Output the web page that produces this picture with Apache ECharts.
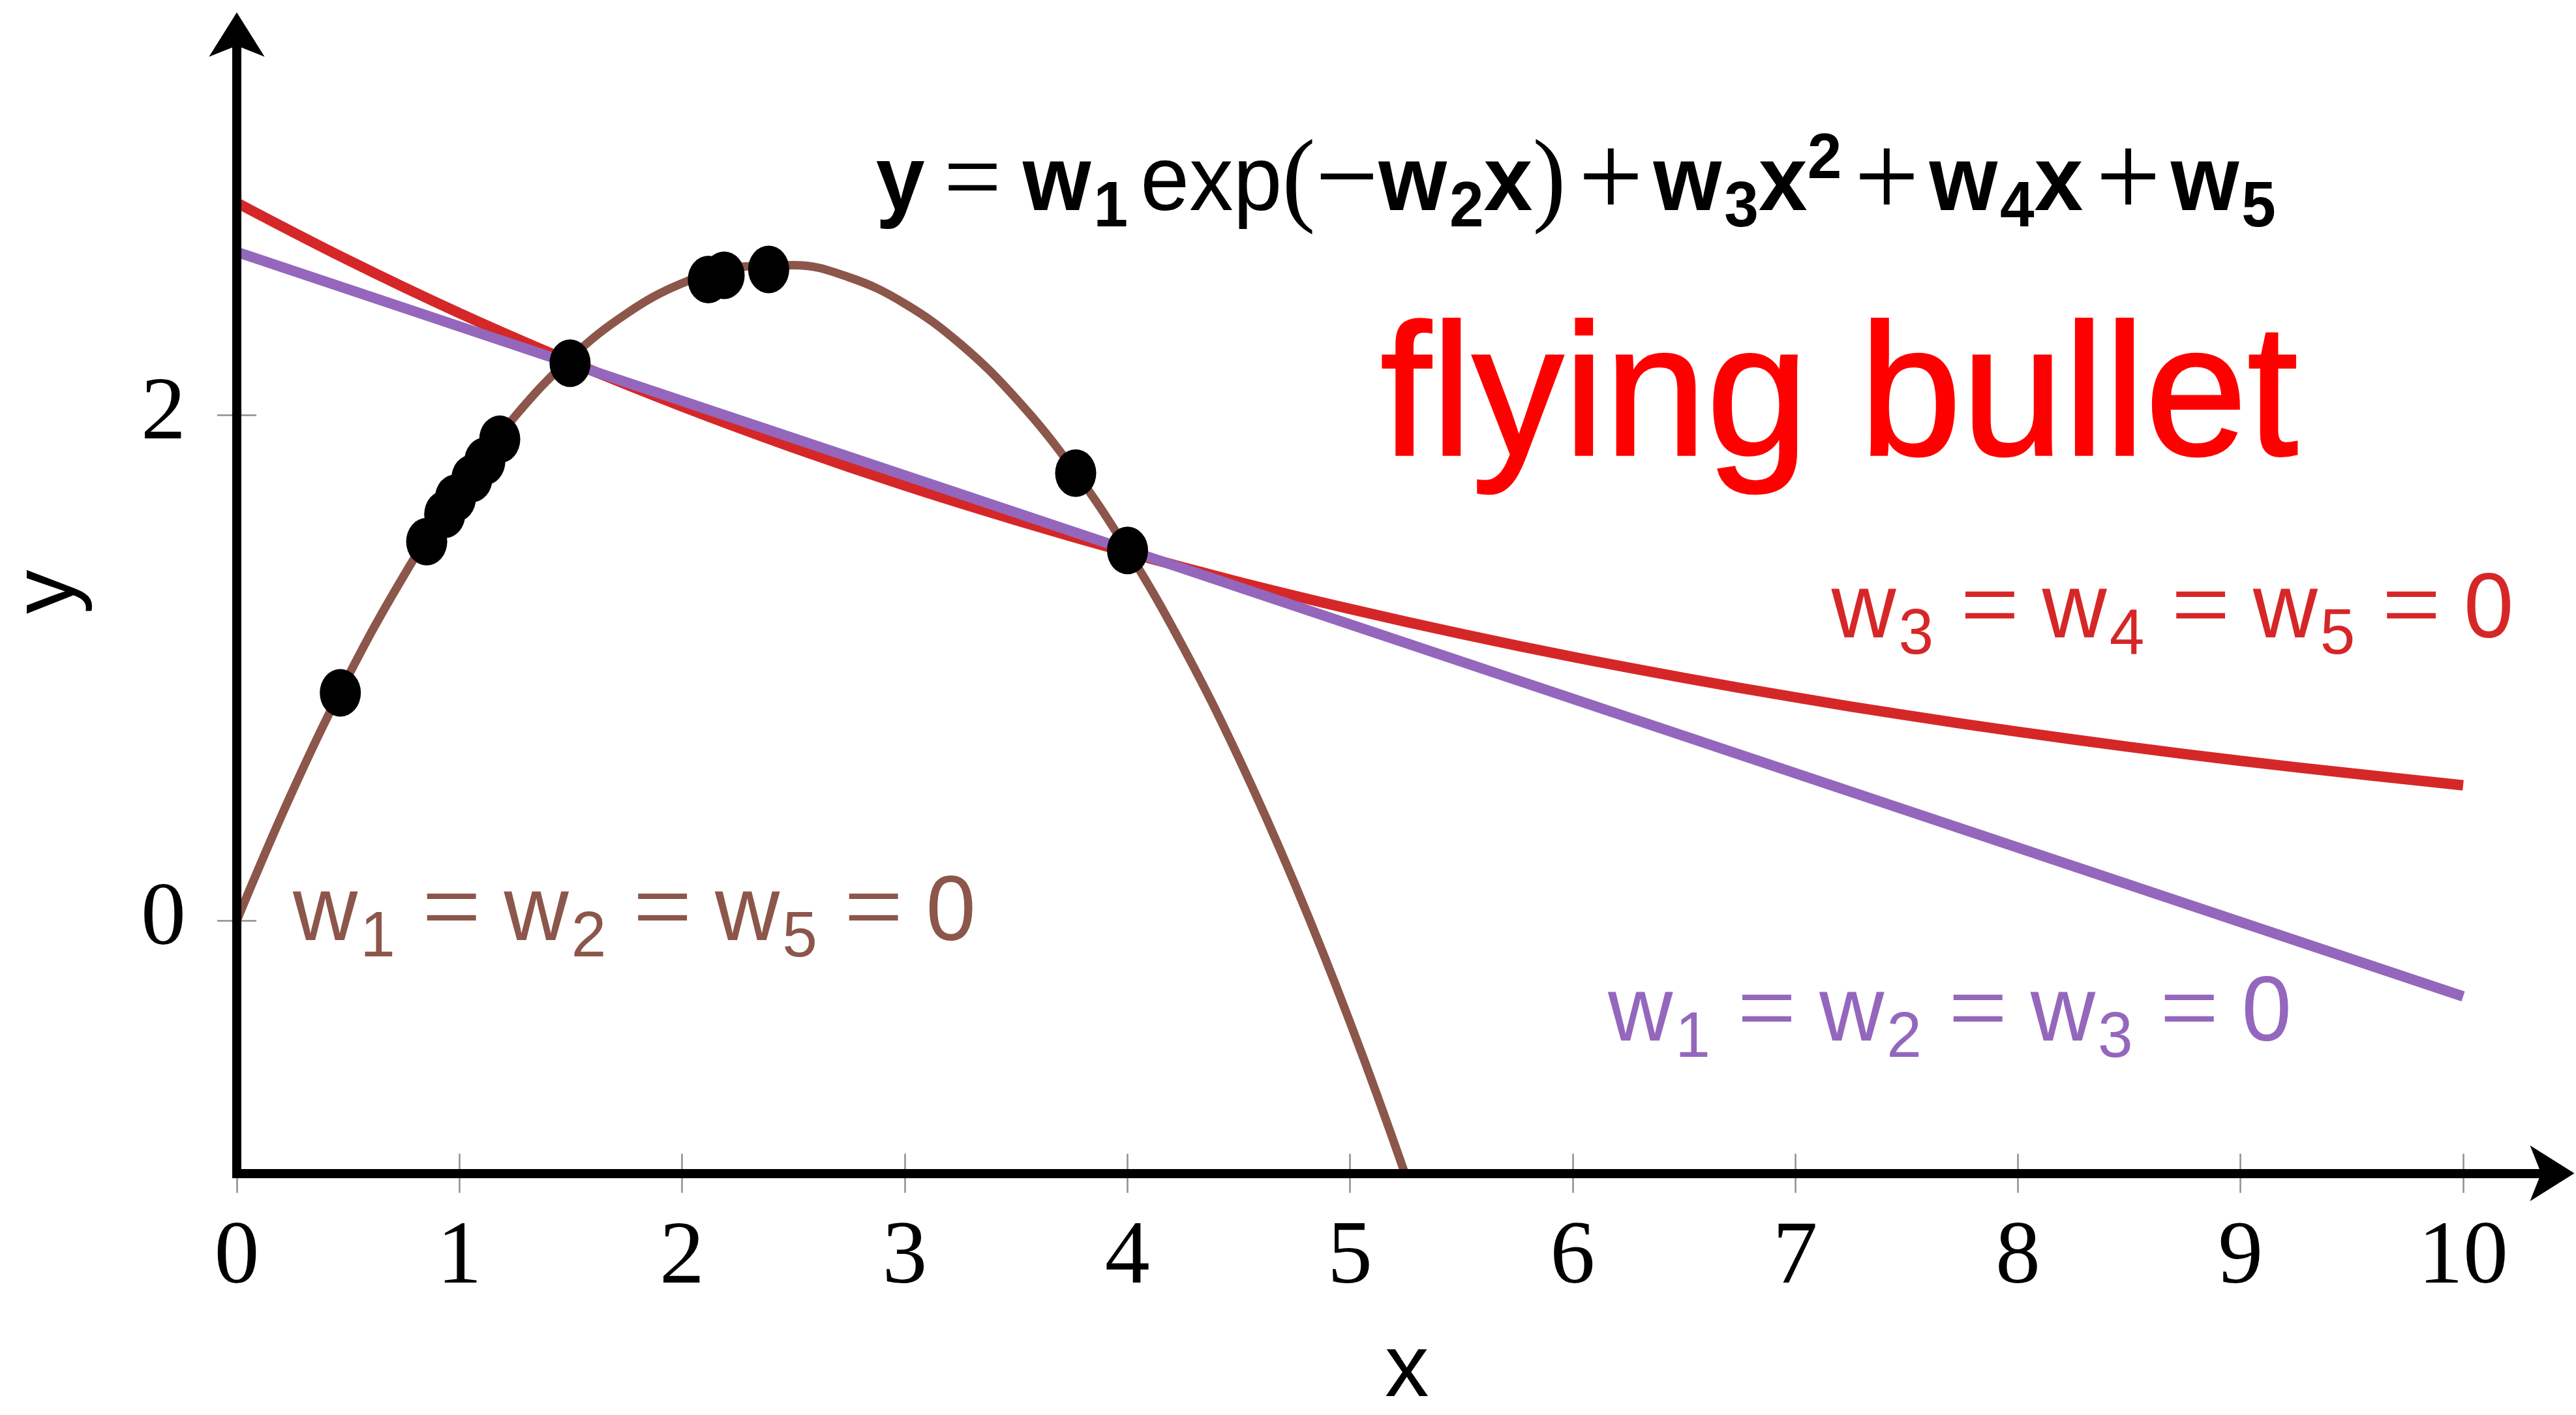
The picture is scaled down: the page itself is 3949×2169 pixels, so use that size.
<!DOCTYPE html>
<html>
<head>
<meta charset="utf-8">
<script src="https://cdn.jsdelivr.net/npm/echarts@6/dist/echarts.min.js"></script>
<style>
  html, body { margin: 0; padding: 0; background: #ffffff; overflow: hidden; }
  #chart { width: 3949px; height: 2169px; }
</style>
</head>
<body>
<div id="chart"></div>
<script>
// Measured positions of the bullet
const obsX = [0.465, 0.853, 0.934, 0.982, 1.056, 1.114, 1.181, 1.497, 2.118, 2.189, 2.389, 3.768, 4.001];
const obsY = [0.901, 1.499, 1.607, 1.671, 1.749, 1.817, 1.904, 2.205, 2.536, 2.553, 2.576, 1.770, 1.464];

// Quadratic model (w1 = w2 = w5 = 0)
const quadX = [0, 0.25, 0.5, 0.75, 1, 1.25, 1.5, 1.75, 2, 2.25, 2.5, 2.75, 3, 3.25, 3.5, 3.75, 4, 4.25, 4.5, 4.75, 5, 5.25, 5.5];
const quadY = [0, 0.511, 0.966, 1.364, 1.708, 1.995, 2.226, 2.401, 2.521, 2.585, 2.593, 2.545, 2.441, 2.281, 2.065, 1.794, 1.466, 1.083, 0.644, 0.149, -0.402, -1.009, -1.672];

// Exponential model (w3 = w4 = w5 = 0)
const expX = [0, 0.5, 1, 1.5, 2, 2.5, 3, 3.5, 4, 4.5, 5, 5.5, 6, 6.5, 7, 7.5, 8, 8.5, 9, 9.5, 10];
const expY = [2.840, 2.613, 2.403, 2.211, 2.034, 1.871, 1.721, 1.584, 1.457, 1.340, 1.233, 1.134, 1.043, 0.960, 0.883, 0.812, 0.747, 0.687, 0.632, 0.582, 0.535];

// Linear model (w1 = w2 = w3 = 0)
const linX = [0, 5, 10];
const linY = [2.645, 1.172, -0.300];

// Tick values
const xTicks = [0, 1, 2, 3, 4, 5, 6, 7, 8, 9, 10];
const yTicks = [0, 2];

const zip = (xs, ys) => xs.map((x, i) => [x, ys[i]]);

const SANS = 'Liberation Sans';
const SERIF = 'Liberation Serif';
const TICK_STYLE = { color: '#8f8f8f', width: 2.5 };
const AXIS_STYLE = { color: '#000000', width: 14, cap: 'square' };

function xAxisBase() {
  return {
    type: 'value', min: 0, max: 10.4, position: 'bottom', gridIndex: 0,
    axisLine: { show: false, onZero: false },
    axisTick: { show: false },
    axisLabel: { show: false },
    splitLine: { show: false }
  };
}
function yAxisBase() {
  return {
    type: 'value', min: -1, max: 3.5, position: 'left', gridIndex: 0,
    axisLine: { show: false, onZero: false },
    axisTick: { show: false },
    axisLabel: { show: false },
    splitLine: { show: false }
  };
}

// Ticks cross the axis line: one axis draws them outward, a twin draws them inward,
// and a third one on top draws the black line with its arrow head.
const xAxes = [
  Object.assign(xAxisBase(), {
    axisTick: { show: true, inside: false, length: 30, lineStyle: TICK_STYLE, customValues: xTicks },
    axisLabel: { show: true, customValues: xTicks, margin: 62, fontFamily: SERIF, fontSize: 138, color: '#000' },
    name: 'x', nameLocation: 'middle', nameGap: 237,
    nameTextStyle: { fontFamily: SANS, fontSize: 135, color: '#000', padding: [0, 0, 0, 38] }
  }),
  Object.assign(xAxisBase(), {
    axisTick: { show: true, inside: true, length: 30, lineStyle: TICK_STYLE, customValues: xTicks }
  }),
  Object.assign(xAxisBase(), {
    z: 5,
    axisLine: {
      show: true, onZero: false, symbol: ['none', 'arrow'], symbolSize: [64, 68],
      symbolOffset: [0, 34], lineStyle: AXIS_STYLE
    }
  })
];

const yAxes = [
  Object.assign(yAxisBase(), {
    axisTick: { show: true, inside: false, length: 30, lineStyle: TICK_STYLE, customValues: yTicks },
    axisLabel: { show: true, customValues: yTicks, margin: 78, fontFamily: SERIF, fontSize: 138, color: '#000' },
    name: 'y', nameLocation: 'middle', nameGap: 220,
    nameTextStyle: { fontFamily: SANS, fontSize: 135, color: '#000', padding: [0, 0, 0, 39] }
  }),
  Object.assign(yAxisBase(), {
    axisTick: { show: true, inside: true, length: 30, lineStyle: TICK_STYLE, customValues: yTicks }
  }),
  Object.assign(yAxisBase(), {
    z: 5,
    axisLine: {
      show: true, onZero: false, symbol: ['none', 'arrow'], symbolSize: [64, 68],
      symbolOffset: [0, 36], lineStyle: AXIS_STYLE
    }
  })
];

const chart = echarts.init(document.getElementById('chart'), null, { renderer: 'canvas' });

chart.setOption({
  animation: false,
  backgroundColor: '#ffffff',
  grid: {
    left: 363, top: 55, right: 36.5, bottom: 370.5,
    containLabel: false, outerBoundsMode: 'none'
  },
  xAxis: xAxes,
  yAxis: yAxes,
  series: [
    {
      name: 'w1 = w2 = w5 = 0', type: 'line', xAxisIndex: 0, yAxisIndex: 0,
      data: zip(quadX, quadY), smooth: 0.4, showSymbol: false, z: 2,
      lineStyle: { color: '#8c564b', width: 13 }
    },
    {
      name: 'w3 = w4 = w5 = 0', type: 'line', xAxisIndex: 0, yAxisIndex: 0,
      data: zip(expX, expY), smooth: 0.4, showSymbol: false, z: 2,
      lineStyle: { color: '#d62728', width: 16 }
    },
    {
      name: 'w1 = w2 = w3 = 0', type: 'line', xAxisIndex: 0, yAxisIndex: 0,
      data: zip(linX, linY), showSymbol: false, z: 2,
      lineStyle: { color: '#9467bd', width: 16 }
    },
    {
      name: 'observations', type: 'scatter', xAxisIndex: 0, yAxisIndex: 0,
      data: zip(obsX, obsY), symbol: 'circle', symbolSize: [63, 73], z: 3,
      itemStyle: { color: '#000000', opacity: 1 }
    }
  ]
});

// Rich-text styles for the formula-like annotations
function mathRich(color, bold, relPad, binPad) {
  const weight = bold ? 'bold' : 'normal';
  return {
    v: { fontFamily: SANS, fontWeight: weight, fontSize: 141, color: color },
    r: { fontFamily: SANS, fontWeight: 'normal', fontSize: 141, color: color, padding: [0, 0, 0, 20] },
    sub: { fontFamily: SANS, fontWeight: weight, fontSize: 99, color: color, padding: [73, 0, 0, 4] },
    sup: { fontFamily: SANS, fontWeight: weight, fontSize: 99, color: color, padding: [0, 0, 75, 0] },
    rel: { fontFamily: SERIF, fontSize: 165, color: color, padding: relPad },
    bin: { fontFamily: SERIF, fontSize: 185, color: color, padding: binPad },
    op: { fontFamily: SERIF, fontSize: 180, color: color },
    paren: { fontFamily: SERIF, fontSize: 160, color: color }
  };
}

const formulaText = '{v|y}{rel|=}{v|w}{sub|1}{r|exp}{paren|(}{op|\u2212}{v|w}{sub|2}{v|x}{paren|)}'
  + '{bin|+}{v|w}{sub|3}{v|x}{sup|2}{bin|+}{v|w}{sub|4}{v|x}{bin|+}{v|w}{sub|5}';

// Annotation anchors: [x, y] in data units at the left end of the text baseline,
// with the width each line of text spans
const annotations = [
  { at: [2.871, 2.785], size: 141, width: 2146, text: formulaText,
    rich: mathRich('#000000', true, [0, 34, 0, 30], [0, 16, 0, 20]), color: '#000000' },
  { at: [5.136, 1.79], size: 288, width: 1410, text: 'flying bullet', color: '#ff0000', heavy: 3 },
  { at: [7.162, 1.094], size: 141, width: 1046, text: '{v|w}{sub|3}{rel|=}{v|w}{sub|4}{rel|=}{v|w}{sub|5}{rel|=}{v|0}',
    rich: mathRich('#d62728', false, [0, 36, 0, 42], [0, 0, 0, 0]), color: '#d62728' },
  { at: [6.159, -0.501], size: 141, width: 1048, text: '{v|w}{sub|1}{rel|=}{v|w}{sub|2}{rel|=}{v|w}{sub|3}{rel|=}{v|0}',
    rich: mathRich('#9467bd', false, [0, 36, 0, 42], [0, 0, 0, 0]), color: '#9467bd' },
  { at: [0.252, -0.103], size: 141, width: 1047, text: '{v|w}{sub|1}{rel|=}{v|w}{sub|2}{rel|=}{v|w}{sub|5}{rel|=}{v|0}',
    rich: mathRich('#8c564b', false, [0, 36, 0, 42], [0, 0, 0, 0]), color: '#8c564b' }
];

// Offset from the em-box middle to the alphabetic baseline for Liberation Sans
const MID_TO_BASE = 0.3465;

function textStyle(a) {
  const style = {
    x: 0, y: 0,
    text: a.text,
    fill: a.color,
    fontFamily: SANS,
    fontSize: a.size,
    align: 'left',
    verticalAlign: 'middle'
  };
  if (a.rich) style.rich = a.rich;
  if (a.heavy) { style.stroke = a.color; style.lineWidth = a.heavy; }
  return style;
}

function widthScale(a) {
  try {
    const probe = new echarts.graphic.Text({ style: textStyle(a) });
    const w = probe.getBoundingRect().width;
    return (w > 0 && isFinite(w)) ? a.width / w : 1;
  } catch (e) {
    return 1;
  }
}

const graphics = annotations.map(function (a) {
  const p = chart.convertToPixel({ gridIndex: 0 }, a.at);
  return {
    type: 'text',
    x: p[0],
    y: p[1] - MID_TO_BASE * a.size,
    scaleX: widthScale(a),
    z: 10,
    silent: true,
    style: textStyle(a)
  };
});

chart.setOption({ graphic: graphics });
</script>
</body>
</html>
